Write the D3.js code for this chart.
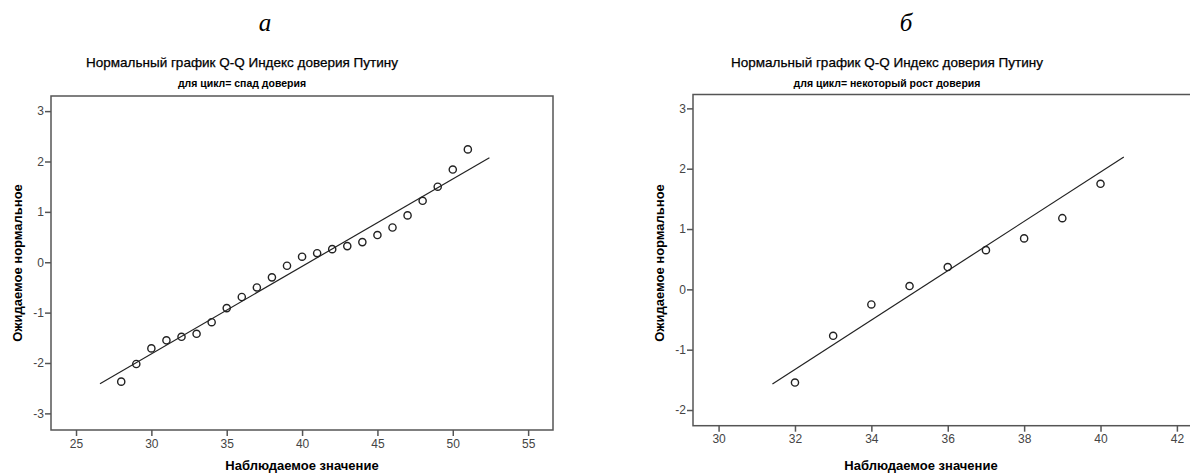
<!DOCTYPE html>
<html>
<head>
<meta charset="utf-8">
<title>Q-Q</title>
<script src="https://d3js.org/d3.v7.min.js"></script>
<style>
body { margin: 0; background: #fff; }
</style>
</head>
<body>
<script>
// панель а: спад доверия
var obsA = [28, 29, 30, 31, 32, 33, 34, 35, 36, 37, 38, 39, 40, 41, 42, 43, 44, 45, 46, 47, 48, 49, 50, 51];
var expA = [-2.37, -2.02, -1.71, -1.55, -1.48, -1.42, -1.19, -0.91, -0.69, -0.50, -0.30, -0.07,
            0.11, 0.18, 0.26, 0.32, 0.40, 0.54, 0.69, 0.93, 1.22, 1.50, 1.84, 2.24];
var lineA = [[26.59, -2.41], [52.43, 2.075]];
var xTicksA = [25, 30, 35, 40, 45, 50, 55];
var yTicksA = [-3, -2, -1, 0, 1, 2, 3];

// панель б: некоторый рост доверия
var obsB = [32, 33, 34, 35, 36, 37, 38, 39, 40];
var expB = [-1.545, -0.77, -0.25, 0.055, 0.37, 0.65, 0.845, 1.18, 1.75];
var lineB = [[31.41, -1.57], [40.61, 2.195]];
var xTicksB = [30, 32, 34, 36, 38, 40, 42];
var yTicksB = [-2, -1, 0, 1, 2, 3];

var svg = d3.select('body').append('svg')
    .attr('width', 1190)
    .attr('height', 473);

// дефис вместо знака минус, как в SPSS
var fmt = function(d) { return String(d); };

function panel(p) {
    var x = d3.scaleLinear().domain(p.xDom).range([p.left, p.right]);
    var y = d3.scaleLinear().domain(p.yDom).range([p.bottom, p.top]);
    var g = svg.append('g');

    g.append('text')
     .attr('x', p.letterX).attr('y', 31)
     .attr('text-anchor', 'middle')
     .style('font-family', 'Liberation Serif')
     .style('font-style', 'italic')
     .style('font-size', '25px')
     .text(p.letter);

    g.append('text')
     .attr('x', p.titleX).attr('y', 67)
     .attr('text-anchor', 'middle')
     .style('font-family', 'Liberation Sans')
     .style('font-size', '13.5px')
     .style('stroke', '#000').style('stroke-width', 0.25)
     .text('Нормальный график Q-Q Индекс доверия Путину');

    g.append('text')
     .attr('x', p.titleX).attr('y', 87)
     .attr('text-anchor', 'middle')
     .style('font-family', 'Liberation Sans')
     .style('font-weight', 'bold')
     .style('font-size', '10.5px')
     .text(p.sub);

    // рамка
    g.append('rect')
     .attr('x', p.left).attr('y', p.top)
     .attr('width', p.right - p.left).attr('height', p.bottom - p.top)
     .attr('fill', 'none').attr('stroke', '#555').attr('stroke-width', 1.5);

    var xAxis = g.append('g')
     .attr('transform', 'translate(0,' + p.bottom + ')')
     .call(d3.axisBottom(x).tickValues(p.xTicks).tickSize(6).tickPadding(3).tickFormat(fmt));
    var yAxis = g.append('g')
     .attr('transform', 'translate(' + p.left + ',0)')
     .call(d3.axisLeft(y).tickValues(p.yTicks).tickSize(6).tickPadding(1).tickFormat(fmt));
    [xAxis, yAxis].forEach(function(a) {
        a.select('.domain').remove();
        a.selectAll('line').attr('stroke', '#555').attr('stroke-width', 1.5);
        a.selectAll('text')
         .style('font-family', 'Liberation Sans')
         .style('font-size', '12px')
         .attr('fill', '#444');
    });

    g.append('text')
     .attr('x', p.xLabX).attr('y', 470)
     .attr('text-anchor', 'middle')
     .style('font-family', 'Liberation Sans')
     .style('font-weight', 'bold')
     .style('font-size', '13px')
     .text('Наблюдаемое значение');

    g.append('text')
     .attr('transform', 'translate(' + p.yLabX + ',263) rotate(-90)')
     .attr('text-anchor', 'middle')
     .style('font-family', 'Liberation Sans')
     .style('font-weight', 'bold')
     .style('font-size', '13px')
     .text('Ожидаемое нормальное');

    g.append('line')
     .attr('x1', x(p.line[0][0])).attr('y1', y(p.line[0][1]))
     .attr('x2', x(p.line[1][0])).attr('y2', y(p.line[1][1]))
     .attr('stroke', '#222').attr('stroke-width', 1.2);

    g.selectAll('circle')
     .data(p.obs)
     .enter()
     .append('circle')
     .attr('cx', function(d) { return x(d); })
     .attr('cy', function(d, i) { return y(p.exp[i]); })
     .attr('r', 3.6)
     .attr('fill', 'none')
     .attr('stroke', '#222')
     .attr('stroke-width', 1.4);
}

panel({
    letter: 'а', sub: 'для цикл= спад доверия',
    left: 51, right: 553, top: 96, bottom: 430,
    xDom: [23.34, 56.65], yDom: [-3.33, 3.30],
    xTicks: xTicksA, yTicks: yTicksA,
    obs: obsA, exp: expA, line: lineA,
    letterX: 265, titleX: 242, xLabX: 302, yLabX: 22
});

panel({
    letter: 'б', sub: 'для цикл= некоторый рост доверия',
    left: 693, right: 1196, top: 94.5, bottom: 425.7,
    xDom: [29.33, 42.5], yDom: [-2.26, 3.23],
    xTicks: xTicksB, yTicks: yTicksB,
    obs: obsB, exp: expB, line: lineB,
    letterX: 906, titleX: 887, xLabX: 921, yLabX: 664
});
</script>
</body>
</html>
